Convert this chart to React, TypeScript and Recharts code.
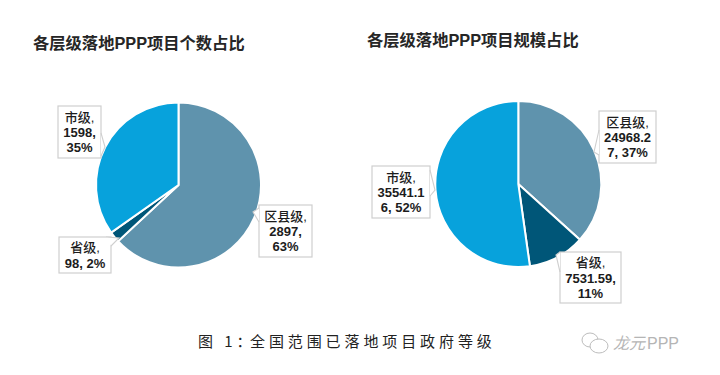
import React from "react";
import { PieChart, Pie, Cell, Customized } from "recharts";

const levels = ["区县级", "省级", "市级"];
const countValues = [2897, 98, 1598];
const scaleValues = [24968.27, 7531.59, 35541.16];
const countLabels = [["区县级,", "2897,", "63%"], ["省级,", "98, 2%"], ["市级,", "1598,", "35%"]];
const scaleLabels = [["区县级,", "24968.2", "7, 37%"], ["省级,", "7531.59,", "11%"], ["市级,", "35541.1", "6, 52%"]];
const colors = ["#5F93AD", "#005678", "#07A2DC"];

const countData = levels.map((name, i) => ({ name, value: countValues[i] }));
const scaleData = levels.map((name, i) => ({ name, value: scaleValues[i] }));

const FONT = '"Liberation Sans", "Noto Sans CJK SC", sans-serif';
const TEXT = "#1c1c1c";

// box: left, top, right, bottom; tip: pointer end; base: the two points on the box edge
type Callout = { box: number[]; tip: number[]; base: number[][] };
const countCallouts: Callout[] = [
  { box: [259, 205, 312, 257], tip: [253, 212], base: [[259, 208], [259, 222]] },
  { box: [59, 237, 111, 273], tip: [119, 238], base: [[106, 237], [111, 246]] },
  { box: [58, 106, 101, 158], tip: [105, 147], base: [[101, 133], [101, 156]] },
];
const scaleCallouts: Callout[] = [
  { box: [599, 111, 656, 163], tip: [594, 152], base: [[599, 130], [599, 155]] },
  { box: [560, 252, 621, 303], tip: [556, 255], base: [[560, 252], [560, 272]] },
  { box: [372, 166, 430, 218], tip: [435, 190], base: [[430, 170], [430, 196]] },
];

function makeLabel(lines: string[][], callouts: Callout[]) {
  return (props: any) => {
    const i = props.index as number;
    const { box, tip, base } = callouts[i];
    const [l, t, r, b] = box;
    const cx = (l + r) / 2;
    const ls = lines[i];
    const lh = 15.2;
    const startY = (t + b) / 2 - ((ls.length - 1) * lh) / 2 + 5;
    return (
      <g>
        <rect x={l} y={t} width={r - l} height={b - t} fill="#fff" stroke="#cfcfcf" strokeWidth={1.2} />
        <polyline
          points={`${base[0][0]},${base[0][1]} ${tip[0]},${tip[1]} ${base[1][0]},${base[1][1]}`}
          fill="#fff"
          stroke="#cfcfcf"
          strokeWidth={1.1}
        />
        {ls.map((s, k) => (
          <text
            key={k}
            x={cx}
            y={startY + k * lh}
            textAnchor="middle"
            fontFamily={FONT}
            fontSize={13}
            fontWeight={/[0-9]/.test(s) ? 700 : 500}
            fill={TEXT}
          >
            {s}
          </text>
        ))}
      </g>
    );
  };
}

const CJK = '"Noto Sans CJK SC", sans-serif';

const Extras = () => (
  <g>
    <text x={33} y={48.5} fontFamily={FONT} fontSize={16.3} fontWeight={700} fill="#262626">各层级落地PPP项目个数占比</text>
    <text x={367} y={46} fontFamily={FONT} fontSize={16.3} fontWeight={700} fill="#262626">各层级落地PPP项目规模占比</text>
    <text x={198} y={347} fontFamily={CJK} fontSize={15} letterSpacing={3.9} fill="#222">图 1：</text>
    <text x={250} y={347} fontFamily={CJK} fontSize={15} letterSpacing={3.9} fill="#222">全国范围已落地项目政府等级</text>
    <g fill="#fff" stroke="#bdbdbd" strokeWidth={1}>
      <ellipse cx={590} cy={340} rx={8} ry={7} />
      <ellipse cx={599} cy={346} rx={9} ry={7} />
    </g>
    <text x={613} y={349} fontFamily={CJK} fontSize={16} fontStyle="italic" fill="#b5b5b5">龙元</text>
    <text x={647} y={349} fontFamily='"Liberation Sans", sans-serif' fontSize={16} fill="#b5b5b5">PPP</text>
  </g>
);

export default function App() {
  return (
    <div style={{ position: "absolute", left: 0, top: 0, width: 720, height: 375, background: "#fff" }}>
      <PieChart width={720} height={375} margin={{ top: 0, right: 0, bottom: 0, left: 0 }}>
        <Pie
          data={countData}
          dataKey="value"
          nameKey="name"
          cx={178.5}
          cy={185}
          outerRadius={82.5}
          startAngle={90}
          endAngle={-270}
          stroke="#fff"
          strokeWidth={2}
          isAnimationActive={false}
          labelLine={false}
          label={makeLabel(countLabels, countCallouts)}
        >
          {countData.map((d, i) => <Cell key={d.name} fill={colors[i]} />)}
        </Pie>
        <Pie
          data={scaleData}
          dataKey="value"
          nameKey="name"
          cx={518.3}
          cy={184}
          outerRadius={83}
          startAngle={90}
          endAngle={-270}
          stroke="#fff"
          strokeWidth={2}
          isAnimationActive={false}
          labelLine={false}
          label={makeLabel(scaleLabels, scaleCallouts)}
        >
          {scaleData.map((d, i) => <Cell key={d.name} fill={colors[i]} />)}
        </Pie>
        <Customized component={Extras} />
      </PieChart>
    </div>
  );
}
